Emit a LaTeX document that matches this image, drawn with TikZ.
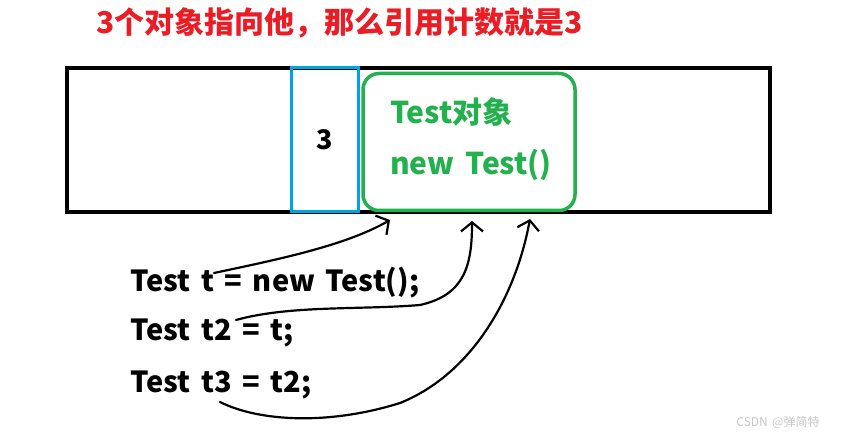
\documentclass[tikz,border=0pt]{standalone}
\usepackage{fontspec}
\newfontfamily\cjk{Noto Sans CJK SC}
\newfontfamily\cjkw{Noto Sans CJK SC}[WordSpace=1.6]
\usetikzlibrary{arrows.meta}
\definecolor{tred}{RGB}{237,28,36}
\definecolor{tblue}{RGB}{0,162,232}
\definecolor{tgreen}{RGB}{34,177,76}
\definecolor{wm}{RGB}{200,200,200}
\tikzset{
  txt/.style={font=\cjkw\bfseries\fontsize{29}{32}\selectfont, inner sep=0pt, anchor=west},
  gtxt/.style={font=\cjk\bfseries\fontsize{30}{32}\selectfont, inner sep=0pt, anchor=west, text=tgreen},
  refarrow/.style={line width=2.2pt, line cap=round, line join=round,
    -{Straight Barb[length=9pt,width=22pt,line width=2.2pt]}},
}
\begin{document}
\begin{tikzpicture}[x=1pt,y=-1pt]
\useasboundingbox (0,0) rectangle (841,438);
\fill[white] (0,0) rectangle (841,438);
% title
\node[inner sep=0pt, anchor=west, text=tred, font=\cjk\bfseries\fontsize{30}{32}\selectfont] (title) at (96,23) {3个对象指向他，那么引用计数就是3};
% memory box
\draw[line width=4pt] (67,68) rectangle (770,212);
\node[draw=tblue, line width=3pt, minimum width=67pt, minimum height=144pt, inner sep=0pt] (cnt) at (324.5,140) {};
\node[font=\cjk\bfseries\fontsize{27}{29}\selectfont] (num) at (cnt.center) {3};
\node[draw=tgreen, line width=3.5pt, rounded corners=16pt, minimum width=212pt, minimum height=137pt, inner sep=0pt] (obj) at (469,142) {};
\node[gtxt] (o1) at (390,112) {Test对象};
\node[gtxt] (o2) at (390,165) {new Test()};
% code
\node[txt] (c1) at (130,283) {Test t = new Test();};
\node[txt] (c2) at (130,333) {Test t2 = t;};
\node[txt] (c3) at (130,385) {Test t3 = t2;};
% arrow endpoints
\coordinate (s1) at (214,273);
\coordinate (e1) at (390,220);
\coordinate (s2) at (236,320);
\coordinate (m2) at (420,305);
\coordinate (e2) at (472,221);
\coordinate (s3) at (220,402);
\coordinate (m3) at (400,403);
\coordinate (e3) at (530,219);
\draw[refarrow] (s1) .. controls (275,260) and (345,246) .. (e1);
\draw[refarrow] (s2) .. controls (290,305) and (360,310) .. (m2) .. controls (465,295) and (472,265) .. (e2);
\draw[refarrow] (s3) .. controls (260,422) and (330,425) .. (m3) .. controls (470,375) and (515,300) .. (e3);
% watermark
\node[font=\cjk\fontsize{12}{13}\selectfont, text=wm, inner sep=0pt] (wmark) at (778,422) {CSDN @弹简特};
\end{tikzpicture}
\end{document}
